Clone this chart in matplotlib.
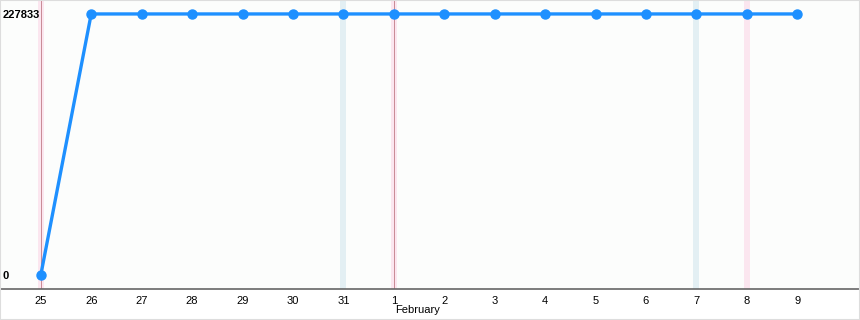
import matplotlib

matplotlib.use("Agg")
import matplotlib.pyplot as plt

# data
day_labels = ["25", "26", "27", "28", "29", "30", "31", "1", "2", "3",
              "4", "5", "6", "7", "8", "9"]
values = [0] + [227833] * 15
y_ticks = [0, 227833]

# marked days (index into day_labels)
red_lines = [0, 7]
pink_bands = [0, 7, 14]
blue_bands = [6, 13]

plt.rcParams["font.family"] = ["Liberation Sans", "DejaVu Sans"]

fig = plt.figure(figsize=(8.6, 3.2), dpi=100, facecolor="white")
ax = fig.add_axes([0.001, 31 / 320, 0.998, 288 / 320])
ax.set_facecolor("#fcfdfc")

x = list(range(len(day_labels)))
px = 758 / 15  # pixels per day

# background bands
for d in pink_bands:
    ax.axvspan(d - 3 / px, d + 3 / px, color="#fbe6ef", zorder=0, lw=0)
for d in blue_bands:
    ax.axvspan(d - 3 / px, d + 3 / px, color="#e3eff3", zorder=0, lw=0)
for d in red_lines:
    ax.axvline(d, color="#c98a95", lw=0.7, zorder=1)

ax.plot(x, values, color="#1e90ff", lw=2.4, marker="o", ms=6.5, zorder=3,
        clip_on=False)

ax.set_xlim(-40 / px, 15 + 62 / px)
unit = 227833 / 262
ax.set_ylim(-14 * unit, 227833 + 13 * unit)

ax.set_xticks(x)
ax.set_xticklabels(day_labels, fontsize=8)
ax.tick_params(axis="x", length=0, pad=5)

ax.set_yticks(y_ticks)
ax.set_yticklabels([str(v) for v in y_ticks], fontsize=8, fontweight="bold")
ax.tick_params(axis="y", length=0, pad=-1)
for lbl in ax.get_yticklabels():
    lbl.set_horizontalalignment("left")

for side in ("top", "left", "right"):
    ax.spines[side].set_visible(False)
ax.spines["bottom"].set_color("#666666")
ax.spines["bottom"].set_linewidth(1.2)

ax.text(7.03, -0.073, "February", transform=ax.get_xaxis_transform(),
        fontsize=8, ha="left", va="center")

# thin grey frame around the image
fig.patches.append(plt.Rectangle((0, 0), 1, 1, transform=fig.transFigure,
                                 fill=False, edgecolor="#dddddd", lw=1.5))

fig.savefig("out.png", dpi=100, facecolor="white")
